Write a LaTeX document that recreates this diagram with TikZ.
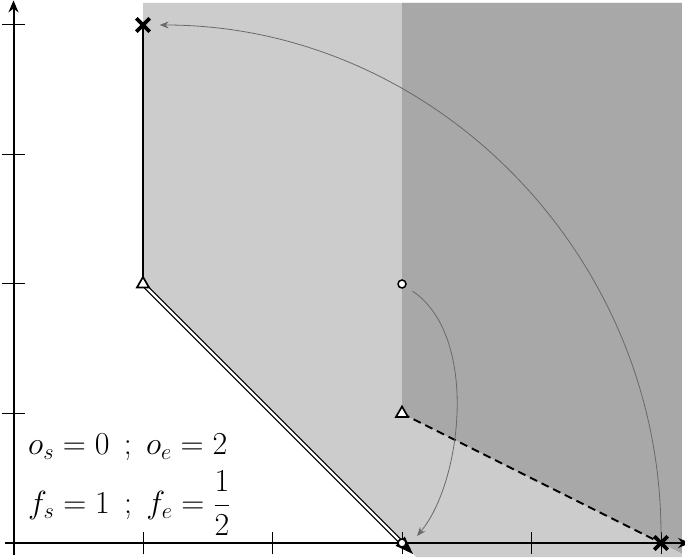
\RequirePackage{fix-cm}
\documentclass[tikz,border=0pt]{standalone}
\usetikzlibrary{arrows.meta,shapes.geometric,shapes.misc}
\definecolor{lightg}{RGB}{204,204,204}
\definecolor{darkg}{RGB}{168,168,168}
\definecolor{arrowg}{RGB}{105,105,105}
\begin{document}
\begin{tikzpicture}[x=129.5pt,y=129.5pt,
  axisline/.style={line width=2pt,-{Stealth[length=12pt,width=10pt]}},
  tickline/.style={line width=1pt},
  solidseg/.style={line width=2.2pt},
  doubleseg/.style={line width=1.25pt,double=white,double distance=2.2pt},
  dashseg/.style={line width=2pt,dash pattern=on 8pt off 5pt},
  trimark/.style={regular polygon,regular polygon sides=3,draw,fill=white,line width=1.7pt,inner sep=0pt,minimum size=14pt},
  circmark/.style={circle,draw,fill=white,line width=1.5pt,inner sep=0pt,minimum size=8pt},
  crossmark/.style={cross out,draw,line width=3.8pt,inner sep=0pt,minimum size=9.5pt},
  grayarrow/.style={draw=arrowg,line width=0.8pt,-{Stealth[length=9pt,width=7pt,inset=3pt,fill=arrowg]}},
  eqtext/.style={inner sep=0pt,font=\fontsize{32}{38}\selectfont}]
\useasboundingbox (-0.10425,-0.10811) rectangle (5.18533,4.19305);
% shaded regions
\fill[lightg] (1,4.17) -- (1,2) -- (3,0) -- (3.11,-0.11) -- (5.162,-0.11) -- (5.162,4.17) -- cycle;
\fill[darkg] (3,4.17) -- (3,1) -- (5,0) -- (5.162,-0.081) -- (5.162,4.17) -- cycle;
% axes
\coordinate (xa) at (-0.065,0);
\coordinate (xb) at (5.225,0);
\coordinate (ya) at (0,-0.095);
\coordinate (yb) at (0,4.19);
\draw[axisline] (xa) -- (xb);
\draw[axisline] (ya) -- (yb);
\foreach \i in {1,...,5} \draw[tickline] (\i,-0.085) -- (\i,0.085);
\foreach \j in {1,...,4} \draw[tickline] (-0.09,\j) -- (0.09,\j);
% key points
\coordinate (p1) at (1,4);
\coordinate (p2) at (1,2);
\coordinate (p3) at (3,0);
\coordinate (p4) at (3,1);
\coordinate (p5) at (5,0);
\coordinate (p6) at (3,2);
% segments
\draw[solidseg] (p1) -- (p2);
\draw[doubleseg] (p2) -- (p3);
\fill[shift={(p3)},rotate=-45] (-0.02,0.05) -- (0.12,0) -- (-0.02,-0.05) -- cycle;
\draw[dashseg] (p4) -- (p5);
% markers
\node[crossmark] (m1) at (p1) {};
\node[trimark] (m2) at (p2) {};
\node[circmark] (m3) at (p3) {};
\node[trimark] (m4) at (p4) {};
\node[crossmark] (m5) at (p5) {};
\node[circmark] (m6) at (p6) {};
% gray arrows
\coordinate (tipA) at (3.116,0.054);
\draw[grayarrow,shorten <=8pt] (m6) .. controls +(-34:0.72) and +(50:0.54) .. (tipA);
\draw[grayarrow,shorten <=2pt,shorten >=10pt] (m5) to[out=90,in=0] (m1);
% labels
\node[eqtext,anchor=base west] (eq1) at (0.112,0.68) {$o_s = 0\;\,;\; o_e = 2$};
\node[eqtext,anchor=base west] (eq2) at (0.112,0.228) {$f_s = 1\;\,;\; f_e = {\displaystyle\frac{1}{2}}$};
\end{tikzpicture}
\end{document}
